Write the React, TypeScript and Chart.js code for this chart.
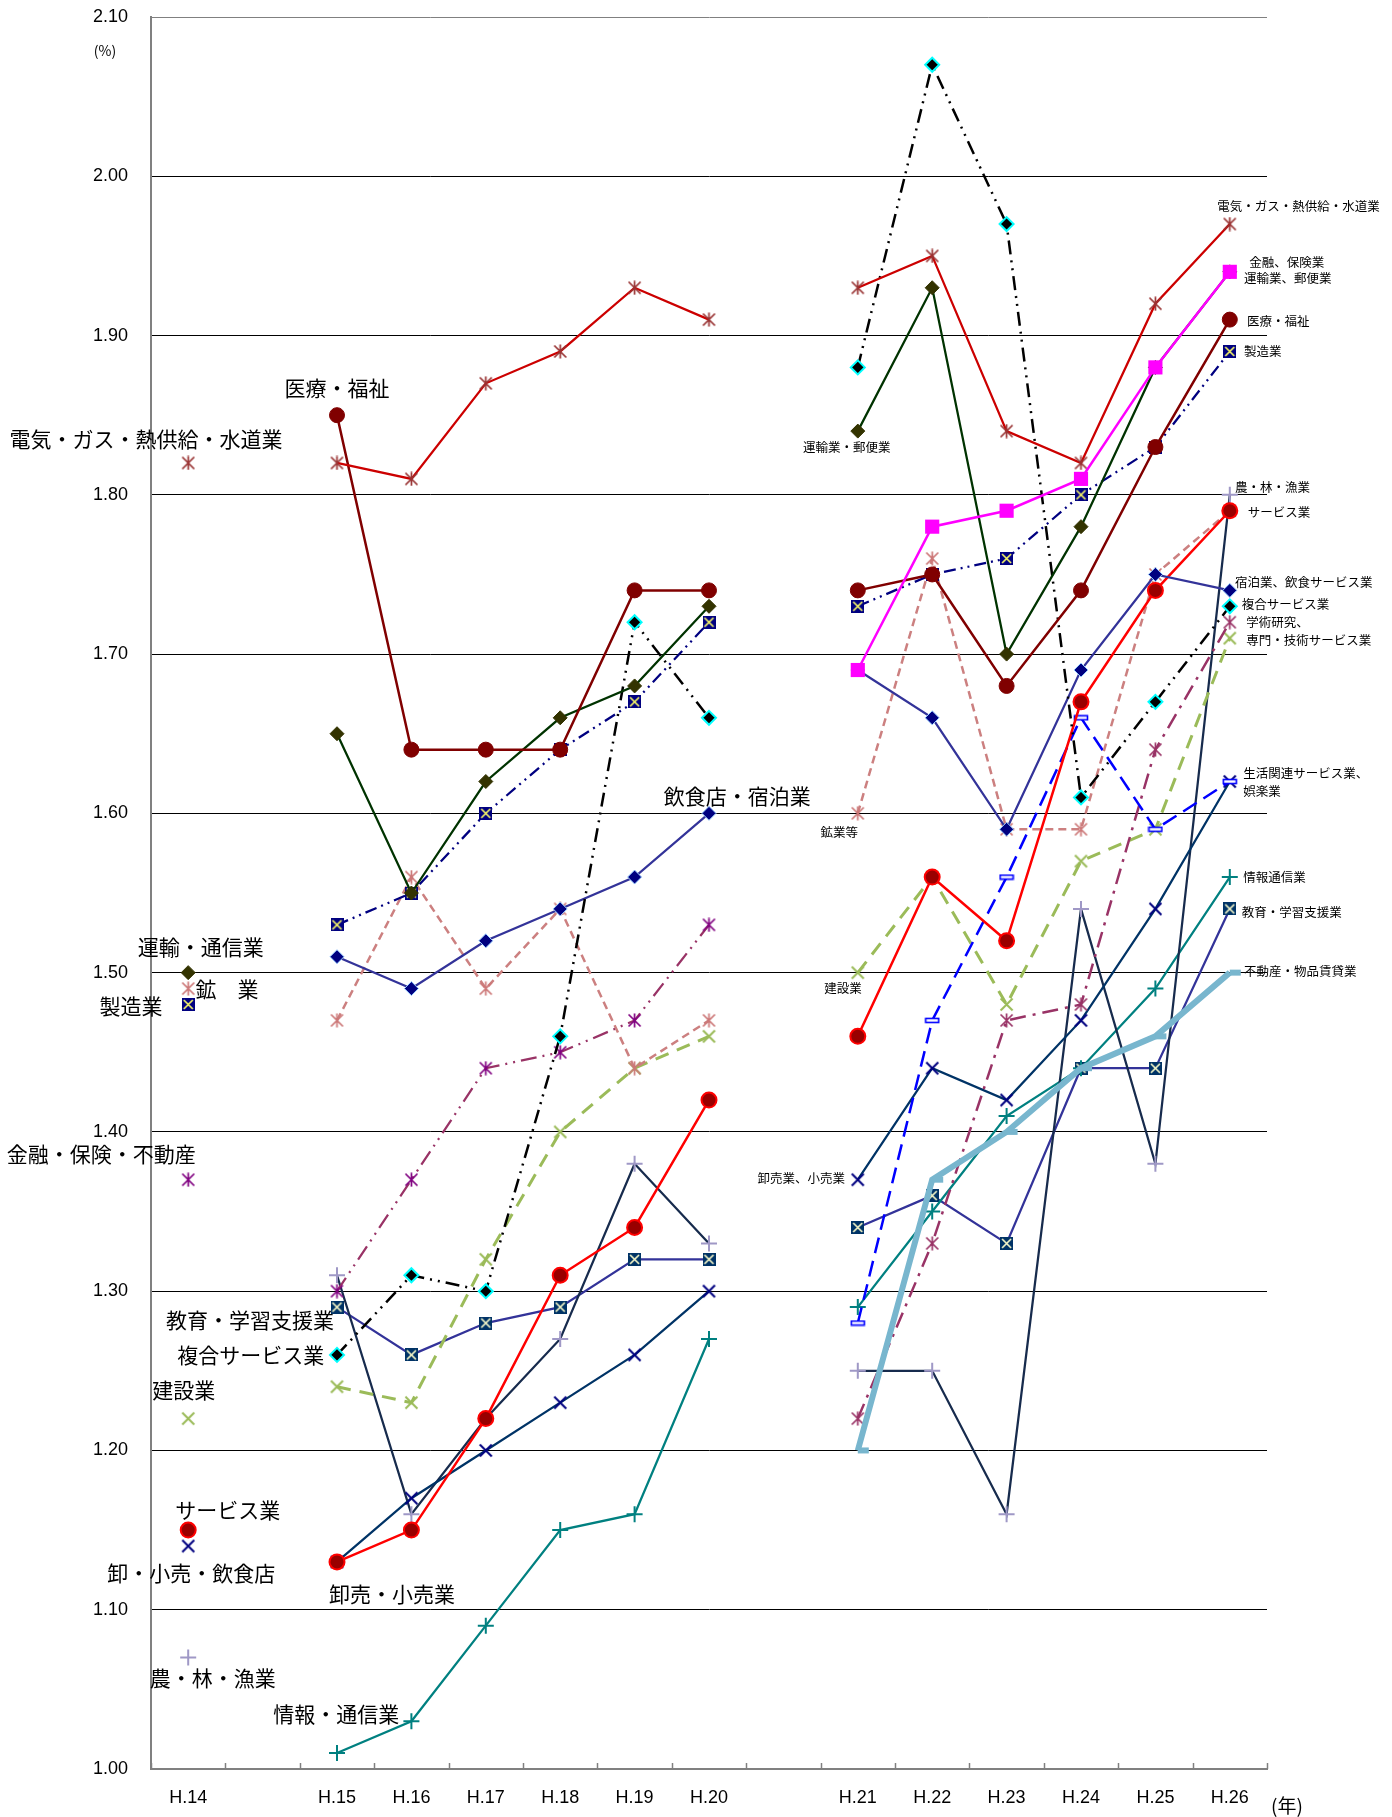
import React, { useEffect, useRef } from 'react';
import { Chart, registerables } from 'chart.js';

Chart.register(...registerables);

// ---------- data ----------
const categories = ['H.14', '', 'H.15', 'H.16', 'H.17', 'H.18', 'H.19', 'H.20', '', 'H.21', 'H.22', 'H.23', 'H.24', 'H.25', 'H.26'];
const yTicks = [1.0, 1.1, 1.2, 1.3, 1.4, 1.5, 1.6, 1.7, 1.8, 1.9, 2.0, 2.1];

const denki = [1.82, null, 1.82, 1.81, 1.87, 1.89, 1.93, 1.91, null, 1.93, 1.95, 1.84, 1.82, 1.92, 1.97];
const iryo = [null, null, 1.85, 1.64, 1.64, 1.64, 1.74, 1.74, null, 1.74, 1.75, 1.68, 1.74, 1.83, 1.91];
const unyu = [1.50, null, 1.65, 1.55, 1.62, 1.66, 1.68, 1.73, null, 1.84, 1.93, 1.70, 1.78, 1.88, 1.94];
const seizo = [1.48, null, 1.53, 1.55, 1.60, 1.64, 1.67, 1.72, null, 1.73, 1.75, 1.76, 1.80, 1.83, 1.89];
const inshoku = [null, null, 1.51, 1.49, 1.52, 1.54, 1.56, 1.60, null, 1.69, 1.66, 1.59, 1.69, 1.75, 1.74];
const kogyo = [1.49, null, 1.47, 1.56, 1.49, 1.54, 1.44, 1.47, null, 1.60, 1.76, 1.59, 1.59, 1.75, 1.79];
const kinyuOld = [1.37, null, 1.30, 1.37, 1.44, 1.45, 1.47, 1.53, null, null, null, null, null, null, null];
const gakujutsu = [null, null, null, null, null, null, null, null, null, 1.22, 1.33, 1.47, 1.48, 1.64, 1.72];
const kensetsu = [1.22, null, 1.24, 1.23, 1.32, 1.40, 1.44, 1.46, null, 1.50, 1.56, 1.48, 1.57, 1.59, 1.71];
const service = [1.15, null, 1.13, 1.15, 1.22, 1.31, 1.34, 1.42, null, 1.46, 1.56, 1.52, 1.67, 1.74, 1.79];
const oroshi = [1.14, null, 1.13, 1.17, 1.20, 1.23, 1.26, 1.30, null, 1.37, 1.44, 1.42, 1.47, 1.54, 1.62];
const noringyo = [1.07, null, 1.31, 1.16, 1.22, 1.27, 1.38, 1.33, null, 1.25, 1.25, 1.16, 1.54, 1.38, 1.80];
const joho = [null, null, 1.01, 1.03, 1.09, 1.15, 1.16, 1.27, null, 1.29, 1.35, 1.41, 1.44, 1.49, 1.56];
const kyoiku = [null, null, 1.29, 1.26, 1.28, 1.29, 1.32, 1.32, null, 1.34, 1.36, 1.33, 1.44, 1.44, 1.54];
const fukugo = [null, null, 1.26, 1.31, 1.30, 1.46, 1.72, 1.66, null, 1.88, 2.07, 1.97, 1.61, 1.67, 1.73];
const kinyuNew = [null, null, null, null, null, null, null, null, null, 1.69, 1.78, 1.79, 1.81, 1.88, 1.94];
const seikatsu = [null, null, null, null, null, null, null, null, null, 1.28, 1.47, 1.56, 1.66, 1.59, 1.62];
const fudosan = [null, null, null, null, null, null, null, null, null, 1.20, 1.37, 1.40, 1.44, 1.46, 1.50];

// ---------- text labels (placed in category / value space) ----------
type Lbl = { text: string; cx: number; cy: number; size: number; align: CanvasTextAlign };
const BIG = 21;
const SMALL = 12.5;
const labels: Lbl[] = [
  { text: '医療・福祉', cx: 2.0, cy: 1.867, size: BIG, align: 'center' },
  { text: '電気・ガス・熱供給・水道業', cx: -0.567, cy: 1.835, size: BIG, align: 'center' },
  { text: '運輸・通信業', cx: 0.17, cy: 1.516, size: BIG, align: 'center' },
  { text: '鉱　業', cx: 0.52, cy: 1.49, size: BIG, align: 'center' },
  { text: '製造業', cx: -0.77, cy: 1.479, size: BIG, align: 'center' },
  { text: '飲食店・宿泊業', cx: 7.38, cy: 1.611, size: BIG, align: 'center' },
  { text: '金融・保険・不動産', cx: -1.17, cy: 1.386, size: BIG, align: 'center' },
  { text: '教育・学習支援業', cx: 0.83, cy: 1.282, size: BIG, align: 'center' },
  { text: '複合サービス業', cx: 0.84, cy: 1.26, size: BIG, align: 'center' },
  { text: '建設業', cx: -0.06, cy: 1.238, size: BIG, align: 'center' },
  { text: 'サービス業', cx: 0.53, cy: 1.1625, size: BIG, align: 'center' },
  { text: '卸・小売・飲食店', cx: 0.04, cy: 1.123, size: BIG, align: 'center' },
  { text: '卸売・小売業', cx: 2.74, cy: 1.11, size: BIG, align: 'center' },
  { text: '農・林・漁業', cx: 0.33, cy: 1.057, size: BIG, align: 'center' },
  { text: '情報・通信業', cx: 1.99, cy: 1.0345, size: BIG, align: 'center' },
  { text: '運輸業・郵便業', cx: 8.85, cy: 1.83, size: SMALL, align: 'center' },
  { text: '鉱業等', cx: 8.75, cy: 1.588, size: SMALL, align: 'center' },
  { text: '建設業', cx: 8.8, cy: 1.49, size: SMALL, align: 'center' },
  { text: '卸売業、小売業', cx: 8.24, cy: 1.371, size: SMALL, align: 'center' },
  { text: '電気・ガス・熱供給・水道業', cx: 13.83, cy: 1.981, size: SMALL, align: 'left' },
  { text: '金融、保険業', cx: 14.26, cy: 1.946, size: SMALL, align: 'left' },
  { text: '運輸業、郵便業', cx: 14.19, cy: 1.936, size: SMALL, align: 'left' },
  { text: '医療・福祉', cx: 14.23, cy: 1.909, size: SMALL, align: 'left' },
  { text: '製造業', cx: 14.19, cy: 1.89, size: SMALL, align: 'left' },
  { text: '農・林・漁業', cx: 14.07, cy: 1.805, size: SMALL, align: 'left' },
  { text: 'サービス業', cx: 14.24, cy: 1.789, size: SMALL, align: 'left' },
  { text: '宿泊業、飲食サービス業', cx: 14.07, cy: 1.745, size: SMALL, align: 'left' },
  { text: '複合サービス業', cx: 14.16, cy: 1.731, size: SMALL, align: 'left' },
  { text: '学術研究、', cx: 14.22, cy: 1.72, size: SMALL, align: 'left' },
  { text: '専門・技術サービス業', cx: 14.22, cy: 1.709, size: SMALL, align: 'left' },
  { text: '生活関連サービス業、', cx: 14.18, cy: 1.625, size: SMALL, align: 'left' },
  { text: '娯楽業', cx: 14.18, cy: 1.614, size: SMALL, align: 'left' },
  { text: '情報通信業', cx: 14.18, cy: 1.56, size: SMALL, align: 'left' },
  { text: '教育・学習支援業', cx: 14.16, cy: 1.538, size: SMALL, align: 'left' },
  { text: '不動産・物品賃貸業', cx: 14.19, cy: 1.501, size: SMALL, align: 'left' },
];

const JP = '"Noto Sans CJK JP", "Noto Sans", sans-serif';
const NUM = '"Liberation Sans", Arial, sans-serif';

// ---------- marker images ----------
function mkCanvas(w: number, h: number, draw: (ctx: CanvasRenderingContext2D) => void) {
  const c = document.createElement('canvas');
  c.width = w;
  c.height = h;
  const ctx = c.getContext('2d') as CanvasRenderingContext2D;
  draw(ctx);
  return c;
}
function asterisk(color: string, s = 15, lw = 1.7) {
  return mkCanvas(s, s, (ctx) => {
    ctx.strokeStyle = color;
    ctx.lineWidth = lw;
    ctx.beginPath();
    ctx.moveTo(s / 2, 0.5);
    ctx.lineTo(s / 2, s - 0.5);
    ctx.moveTo(1.5, 1.5);
    ctx.lineTo(s - 1.5, s - 1.5);
    ctx.moveTo(s - 1.5, 1.5);
    ctx.lineTo(1.5, s - 1.5);
    ctx.stroke();
  });
}
function xMark(color: string, s = 14, lw = 1.8) {
  return mkCanvas(s, s, (ctx) => {
    ctx.strokeStyle = color;
    ctx.lineWidth = lw;
    ctx.beginPath();
    ctx.moveTo(1.5, 1.5);
    ctx.lineTo(s - 1.5, s - 1.5);
    ctx.moveTo(s - 1.5, 1.5);
    ctx.lineTo(1.5, s - 1.5);
    ctx.stroke();
  });
}
function sqX(fill: string, xc: string, s = 13) {
  return mkCanvas(s, s, (ctx) => {
    ctx.fillStyle = fill;
    ctx.fillRect(0, 0, s, s);
    ctx.strokeStyle = xc;
    ctx.lineWidth = 1.6;
    ctx.beginPath();
    ctx.moveTo(2, 2);
    ctx.lineTo(s - 2, s - 2);
    ctx.moveTo(s - 2, 2);
    ctx.lineTo(2, s - 2);
    ctx.stroke();
  });
}
function barMark(color: string) {
  return mkCanvas(16, 7, (ctx) => {
    ctx.fillStyle = '#FFFFFF';
    ctx.fillRect(1, 1, 14, 5);
    ctx.strokeStyle = color;
    ctx.lineWidth = 1.6;
    ctx.strokeRect(1.5, 1.5, 13, 4);
  });
}

function line(label: string, data: (number | null)[], color: string, width: number, dash: number[], extra: any) {
  return {
    label,
    data,
    borderColor: color,
    borderWidth: width,
    borderDash: dash,
    backgroundColor: color,
    fill: false,
    tension: 0,
    spanGaps: false,
    pointRadius: 6,
    pointHoverRadius: 6,
    pointHitRadius: 0,
    ...extra,
  };
}

const annotatePlugin = {
  id: 'annotate',
  afterDatasetsDraw(chart: any) {
    const { ctx, scales } = chart;
    const xs = scales.x;
    const ys = scales.y;
    ctx.save();
    ctx.fillStyle = '#000';
    ctx.textBaseline = 'middle';
    for (const l of labels) {
      ctx.font = `${l.size}px ${JP}`;
      ctx.textAlign = l.align;
      ctx.fillText(l.text, xs.getPixelForValue(l.cx), ys.getPixelForValue(l.cy));
    }
    // inside tick marks on x axis
    ctx.strokeStyle = '#808080';
    ctx.lineWidth = 1.5;
    const n = categories.length;
    for (let i = 0; i <= n; i++) {
      const px = Math.round(xs.getPixelForValue(i - 0.5)) + 0.5;
      ctx.beginPath();
      ctx.moveTo(px, ys.bottom);
      ctx.lineTo(px, ys.bottom - 6);
      ctx.stroke();
    }
    // axis unit labels
    ctx.fillStyle = '#000';
    ctx.font = `14px ${JP}`;
    ctx.textAlign = 'center';
    ctx.fillText('(%)', ys.right - 46, ys.top + 34);
    ctx.font = `19px ${JP}`;
    ctx.textAlign = 'center';
    ctx.fillText('(年)', xs.right + 20, xs.top + 37);
    ctx.restore();
  },
};

export default function App() {
  const ref = useRef<HTMLCanvasElement | null>(null);

  useEffect(() => {
    if (!ref.current) return;
    const datasets = [
      line('金融、保険業', kinyuNew, '#FF00FF', 2.5, [], { pointStyle: 'rect', pointRadius: 10, pointBackgroundColor: '#FF00FF', pointBorderColor: '#FF00FF', pointBorderWidth: 0 }),
      line('電気・ガス・熱供給・水道業', denki, '#CC0000', 2.25, [], { pointStyle: asterisk('#993333') }),
      line('医療・福祉', iryo, '#800000', 2.5, [], { pointStyle: 'circle', pointRadius: 7.5, pointBackgroundColor: '#800000', pointBorderColor: '#800000', pointBorderWidth: 1 }),
      line('運輸', unyu, '#003300', 2.25, [], { pointStyle: 'rectRot', pointRadius: 7, pointBackgroundColor: '#333300', pointBorderColor: '#333300', pointBorderWidth: 1 }),
      line('製造業', seizo, '#000080', 2.25, [12, 5, 2, 5, 2, 5], { pointStyle: sqX('#000080', '#FFFF66') }),
      line('不動産業、物品賃貸業', fudosan, '#78B6CE', 6, [], { pointStyle: 'dash', pointRadius: 11, pointBorderColor: '#78B6CE', pointBorderWidth: 6 }),
      line('複合サービス業', fukugo, '#000000', 2.5, [14, 6, 2, 6, 2, 6], { pointStyle: 'rectRot', pointRadius: 7, pointBackgroundColor: '#000000', pointBorderColor: '#00FFFF', pointBorderWidth: 2 }),
      line('宿泊・飲食', inshoku, '#333399', 2.25, [], { pointStyle: 'rectRot', pointRadius: 7, pointBackgroundColor: '#000080', pointBorderColor: '#99CCFF', pointBorderWidth: 1 }),
      line('サービス業', service, '#FF0000', 2.5, [], { pointStyle: 'circle', pointRadius: 7.5, pointBackgroundColor: '#990000', pointBorderColor: '#FF0000', pointBorderWidth: 2 }),
      line('鉱業', kogyo, '#CC8080', 2.5, [8, 5], { pointStyle: asterisk('#CC7777') }),
      line('生活関連サービス業、娯楽業', seikatsu, '#0000FF', 2.5, [16, 8], { pointStyle: barMark('#0000FF') }),
      line('学術研究、専門・技術サービス業', gakujutsu, '#993366', 2.5, [16, 7, 3, 7], { pointStyle: asterisk('#993366') }),
      line('金融・保険・不動産', kinyuOld, '#993366', 2.25, [16, 6, 2, 6, 2, 6], { pointStyle: asterisk('#800080') }),
      line('建設業', kensetsu, '#9BBB59', 3, [14, 9], { pointStyle: xMark('#9BBB59', 15, 2) }),
      line('卸売・小売業', oroshi, '#003366', 2.25, [], { pointStyle: xMark('#000080', 15, 2) }),
      line('農・林・漁業', noringyo, '#172B4D', 2.25, [], { pointStyle: 'cross', pointRadius: 8, pointBorderColor: '#9F98C6', pointBorderWidth: 2 }),
      line('情報通信業', joho, '#008080', 2.25, [], { pointStyle: 'cross', pointRadius: 8, pointBorderColor: '#008080', pointBorderWidth: 2 }),
      line('教育・学習支援業', kyoiku, '#333399', 2.25, [], { pointStyle: sqX('#003366', '#FFFFCC') }),
    ];

    const chart = new Chart(ref.current, {
      type: 'line',
      data: { labels: categories, datasets: datasets as any },
      options: {
        animation: false,
        responsive: false,
        maintainAspectRatio: false,
        events: [],
        layout: { padding: { left: 0, top: 16, right: 125, bottom: 0 } },
        plugins: { legend: { display: false }, tooltip: { enabled: false } },
        scales: {
          x: {
            type: 'category',
            offset: true,
            grid: { display: true, drawOnChartArea: false, drawTicks: false },
            border: { display: true, color: '#808080', width: 2 },
            ticks: {
              autoSkip: false,
              maxRotation: 0,
              padding: 18,
              color: '#000',
              font: { family: NUM, size: 18 },
            },
            afterFit: (s: any) => {
              s.height = 48;
              s.paddingLeft = 0;
              s.paddingRight = 0;
            },
          },
          y: {
            min: 1.0,
            max: 2.1,
            afterBuildTicks: (s: any) => {
              s.ticks = yTicks.map((v) => ({ value: v }));
            },
            ticks: {
              padding: 23,
              color: '#000',
              font: { family: NUM, size: 18 },
              callback: (v: any) => Number(v).toFixed(2),
            },
            grid: {
              drawTicks: false,
              lineWidth: 1,
              color: (c: any) => {
                const v = c.tick ? c.tick.value : 0;
                if (Math.abs(v - 2.1) < 1e-6) return '#808080';
                if (Math.abs(v - 1.0) < 1e-6) return 'rgba(0,0,0,0)';
                return '#000000';
              },
            },
            border: { display: true, color: '#808080', width: 2 },
            afterFit: (s: any) => {
              s.width = 151;
              s.paddingTop = 0;
              s.paddingBottom = 0;
            },
          },
        },
      },
      plugins: [annotatePlugin],
    });
    return () => chart.destroy();
  }, []);

  return (
    <div style={{ position: 'absolute', left: 0, top: 0, width: 1392, height: 1817, background: '#fff' }}>
      <canvas ref={ref} width={1392} height={1817} style={{ width: 1392, height: 1817, display: 'block' }} />
    </div>
  );
}
